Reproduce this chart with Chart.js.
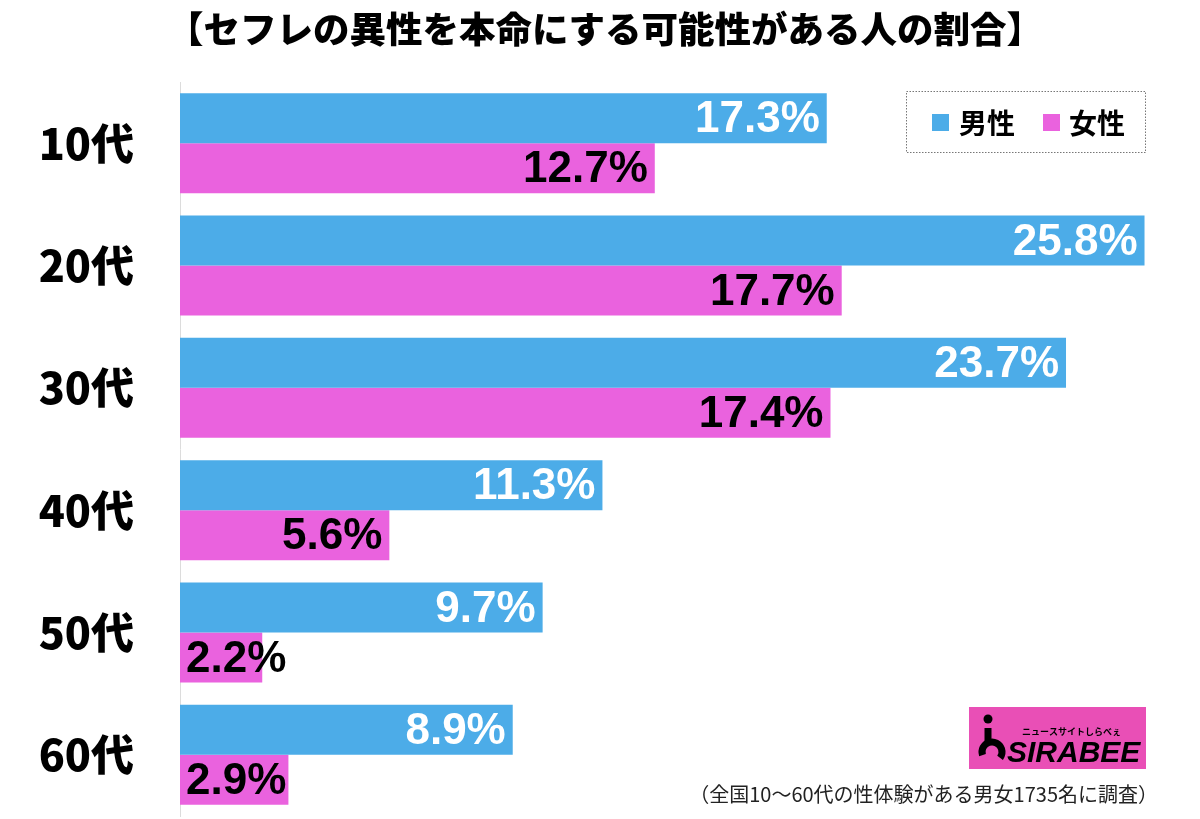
<!DOCTYPE html>
<html><head><meta charset="utf-8">
<script src="https://cdn.jsdelivr.net/npm/chart.js@4.4.0/dist/chart.umd.min.js"></script>
<style>html,body{margin:0;padding:0;background:#fff;}#wrap{position:relative;width:1200px;height:819px;}</style>
</head><body><div id="wrap"><canvas id="c" width="1200" height="819"></canvas></div>
<script>
const categories = ["10代","20代","30代","40代","50代","60代"];
const maleValues = [17.3, 25.8, 23.7, 11.3, 9.7, 8.9];
const femaleValues = [12.7, 17.7, 17.4, 5.6, 2.2, 2.9];
const seriesNames = ["男性","女性"];
const titleText = "【セフレの異性を本命にする可能性がある人の割合】";
const noteText = "（全国10～60代の性体験がある男女1735名に調査）";

const BLUE = "#4cace8", PINK = "#ea62de";
const JP = "'Noto Sans CJK JP', 'Noto Sans', sans-serif";
const NUM = "'Liberation Sans', Arial, sans-serif";

const decor = {
  id: 'decor',
  afterDraw(chart) {
    const ctx = chart.ctx;
    ctx.save();
    // title
    ctx.fillStyle = '#000';
    ctx.font = "900 36.5px " + JP;
    ctx.textAlign = 'center'; ctx.textBaseline = 'middle';
    ctx.fillText(titleText, 605, 29);
    // value labels
    const left = chart.chartArea.left;
    ctx.font = "bold 44px " + NUM;
    ctx.textBaseline = 'middle';
    ctx.textAlign = 'left';
    chart.data.datasets.forEach((ds, di) => {
      const meta = chart.getDatasetMeta(di);
      meta.data.forEach((bar, i) => {
        const txt = ds.data[i].toFixed(1) + '%';
        const w = ctx.measureText(txt).width;
        let x = bar.x - 7 - w;
        if (x < left + 6) x = left + 6;
        ctx.fillStyle = di === 0 ? '#fff' : '#000';
        ctx.fillText(txt, x, bar.y + 2);
      });
    });
    // legend box
    ctx.setLineDash([1.5, 1.5]);
    ctx.strokeStyle = '#777'; ctx.lineWidth = 1;
    ctx.strokeRect(906.5, 91.5, 239, 61);
    ctx.setLineDash([]);
    ctx.fillStyle = BLUE; ctx.fillRect(932, 114, 17, 17);
    ctx.fillStyle = PINK; ctx.fillRect(1043, 114, 17, 17);
    ctx.fillStyle = '#000';
    ctx.font = "bold 28px " + JP;
    ctx.textAlign = 'left'; ctx.textBaseline = 'middle';
    ctx.fillText(seriesNames[0], 959, 123);
    ctx.fillText(seriesNames[1], 1069, 123);
    // logo
    ctx.fillStyle = '#e94fb6';
    ctx.fillRect(969, 707, 177, 62);
    ctx.fillStyle = '#000';
    ctx.beginPath(); ctx.arc(988, 719, 4.5, 0, Math.PI*2); ctx.fill();
    ctx.lineWidth = 7; ctx.strokeStyle = '#000';
    ctx.beginPath(); ctx.moveTo(988, 728); ctx.lineTo(988, 745); ctx.stroke();
    ctx.beginPath(); ctx.arc(992, 752, 10, Math.PI*0.9, Math.PI*2.2); ctx.stroke();
    ctx.font = "bold 9px " + JP;
    ctx.fillText("ニュースサイトしらべぇ", 1022, 732);
    ctx.font = "italic bold 30px " + NUM;
    ctx.textBaseline = 'alphabetic';
    ctx.fillText("SIRABEE", 1007, 762);
    // note
    ctx.font = "20px " + JP;
    ctx.fillStyle = '#222';
    ctx.textAlign = 'right'; ctx.textBaseline = 'middle';
    ctx.fillText(noteText, 1158, 794);
    ctx.restore();
  }
};

new Chart(document.getElementById('c'), {
  type: 'bar',
  data: {
    labels: categories,
    datasets: [
      { label: seriesNames[0], data: maleValues, backgroundColor: BLUE },
      { label: seriesNames[1], data: femaleValues, backgroundColor: PINK }
    ]
  },
  options: {
    indexAxis: 'y',
    responsive: false,
    animation: false,
    devicePixelRatio: 1,
    layout: { padding: { top: 82, bottom: 3, right: 48, left: 0 } },
    datasets: { bar: { barPercentage: 1, categoryPercentage: 0.817, borderWidth: 0 } },
    plugins: { legend: { display: false }, tooltip: { enabled: false } },
    scales: {
      x: { display: false, min: 0, max: 26 },
      y: {
        grid: { display: false },
        border: { display: true, color: '#dcdcdc', width: 1 },
        ticks: { color: '#000', padding: 38, font: { family: JP, size: 43, weight: '900' } },
        afterFit(scale) { scale.width = 180; scale.paddingTop = 0; scale.paddingBottom = 0; }
      }
    }
  },
  plugins: [decor]
});
</script></body></html>
